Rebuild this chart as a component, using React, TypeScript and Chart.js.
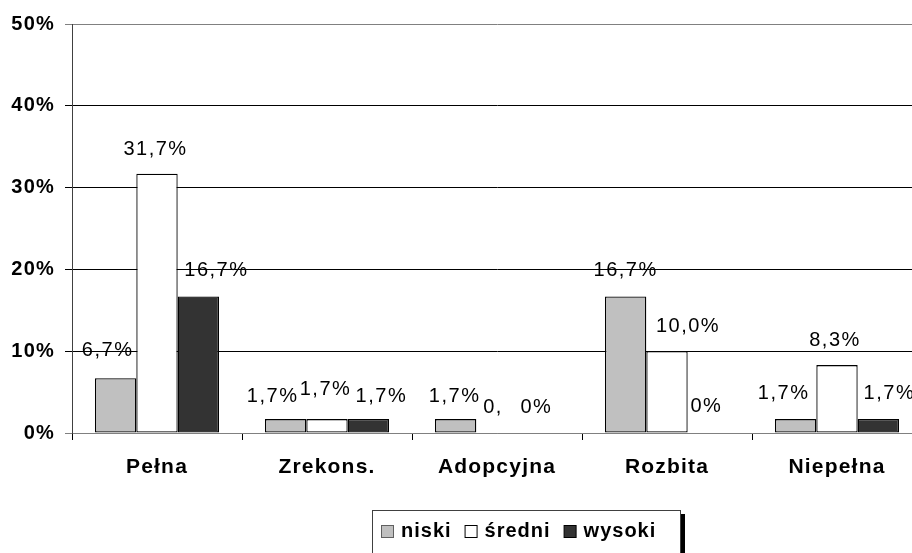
import React, { useEffect, useRef } from "react";
import { Chart, registerables } from "chart.js";

Chart.register(...registerables);

const categories = ["Pełna", "Zrekons.", "Adopcyjna", "Rozbita", "Niepełna"];
const seriesNames = ["niski", "średni", "wysoki"];
const niski = [6.7, 1.7, 1.7, 16.7, 1.7];
const sredni = [31.7, 1.7, 0, 10.0, 8.3];
const wysoki = [16.7, 1.7, 0, 0, 1.7];
const niskiLabels = ["6,7%", "1,7%", "1,7%", "16,7%", "1,7%"];
const sredniLabels = ["31,7%", "1,7%", "0,", "10,0%", "8,3%"];
const wysokiLabels = ["16,7%", "1,7%", "0%", "0%", "1,7%"];
const yTicks = [0, 10, 20, 30, 40, 50];

// label nudges (presentation only): text centre relative to bar centre / bar top
const labelDx = [
  [-8, -13, -1, 0, -12],
  [-1.5, -1.5, -4, 21, -2],
  [18, 13, -2, -2, 11],
];
const labelDy = [
  [-28, -23, -23, -26, -26],
  [-24, -30, -26, -25, -25],
  [-26, -23, -26, -27, -26],
];

const FONT = "'Liberation Sans', Arial, sans-serif";
const COLORS = ["#C0C0C0", "#FFFFFF", "#333333"];

export default function App() {
  const ref = useRef<HTMLCanvasElement | null>(null);
  useEffect(() => {
    const canvas = ref.current;
    if (!canvas) return;
    const labelsAll = [niskiLabels, sredniLabels, wysokiLabels];

    const spacingPlugin = {
      id: "spacing",
      beforeLayout(chart: any) {
        chart.ctx.letterSpacing = "1.2px";
      },
      beforeDraw(chart: any) {
        const ctx = chart.ctx;
        ctx.letterSpacing = "1.2px";
        ctx.save();
        ctx.fillStyle = "#fff";
        ctx.fillRect(0, 0, chart.width, chart.height);
        ctx.restore();
      },
    };

    const labelPlugin = {
      id: "barLabels",
      afterDatasetsDraw(chart: any) {
        const ctx = chart.ctx;
        ctx.save();
        ctx.letterSpacing = "1.5px";
        ctx.font = `20px ${FONT}`;
        ctx.fillStyle = "#000";
        ctx.textAlign = "center";
        ctx.textBaseline = "middle";
        chart.data.datasets.forEach((ds: any, di: number) => {
          const meta = chart.getDatasetMeta(di);
          meta.data.forEach((bar: any, i: number) => {
            const t = labelsAll[di][i];
            ctx.fillText(t, bar.x + labelDx[di][i], bar.y + labelDy[di][i]);
          });
        });
        ctx.restore();
      },
    };

    const legendPlugin = {
      id: "boxLegend",
      afterDraw(chart: any) {
        const ctx = chart.ctx;
        const left = 372, top = 510, w = 308, h = 44;
        ctx.save();
        ctx.fillStyle = "#000";
        ctx.fillRect(left + w, top + 4, 5, h + 1);
        ctx.fillStyle = "#fff";
        ctx.fillRect(left, top, w, h);
        ctx.strokeStyle = "#404040";
        ctx.lineWidth = 1;
        ctx.strokeRect(left + 0.5, top + 0.5, w, h);
        ctx.letterSpacing = "1px";
        ctx.font = `bold 20px ${FONT}`;
        ctx.textBaseline = "middle";
        ctx.textAlign = "left";
        let x = left + 9;
        const cy = top + 21;
        seriesNames.forEach((name, i) => {
          ctx.fillStyle = COLORS[i];
          ctx.fillRect(x + 0.5, cy - 6 + 0.5, 12, 12);
          ctx.strokeStyle = i === 0 ? "#606060" : "#000";
          ctx.strokeRect(x + 0.5, cy - 6 + 0.5, 12, 12);
          x += 20;
          ctx.fillStyle = "#000";
          ctx.fillText(name, x, cy);
          x += ctx.measureText(name).width + 13;
        });
        ctx.restore();
      },
    };

    const chart = new Chart(canvas, {
      type: "bar",
      data: {
        labels: categories,
        datasets: [niski, sredni, wysoki].map((d, i) => ({
          label: seriesNames[i],
          data: d,
          backgroundColor: COLORS[i],
          borderColor: "#000",
          borderWidth: 1.3,
          borderSkipped: false,
          categoryPercentage: 0.73,
          barPercentage: 1,
        })),
      },
      options: {
        responsive: false,
        animation: false,
        devicePixelRatio: 1,
        layout: { padding: { top: 24, left: 0, right: 0, bottom: 0 } },
        plugins: {
          legend: { display: false },
          tooltip: { enabled: false },
        },
        scales: {
          x: {
            afterFit(scale: any) {
              scale.height = 120;
            },
            grid: {
              offset: true,
              drawOnChartArea: false,
              drawTicks: true,
              tickLength: 7,
              color: "#000",
            },
            border: { display: true, color: "#808080" },
            ticks: {
              color: "#000",
              padding: 15,
              font: { family: FONT, size: 21, weight: "bold" },
              maxRotation: 0,
              autoSkip: false,
            },
          },
          y: {
            min: 0,
            max: 50,
            afterFit(scale: any) {
              scale.width = 72;
            },
            afterBuildTicks(scale: any) {
              scale.ticks = yTicks.map((v) => ({ value: v }));
            },
            grid: {
              color: (c: any) =>
                c.tick && (c.tick.value === 0 || c.tick.value === 50) ? "#808080" : "#000",
              lineWidth: 1,
              drawTicks: true,
              tickLength: 7,
            },
            border: { display: true, color: "#404040" },
            ticks: {
              color: "#000",
              padding: 10,
              font: { family: FONT, size: 20, weight: "bold" },
              callback: (v: any) => `${v}%`,
            },
          },
        },
      },
      plugins: [spacingPlugin, labelPlugin, legendPlugin],
    });
    return () => chart.destroy();
  }, []);

  return (
    <div
      style={{
        position: "fixed",
        left: 0,
        top: 0,
        width: 912,
        height: 553,
        overflow: "hidden",
        background: "#fff",
      }}
    >
      <canvas ref={ref} width={922} height={553} style={{ display: "block", width: 922, height: 553 }} />
    </div>
  );
}
